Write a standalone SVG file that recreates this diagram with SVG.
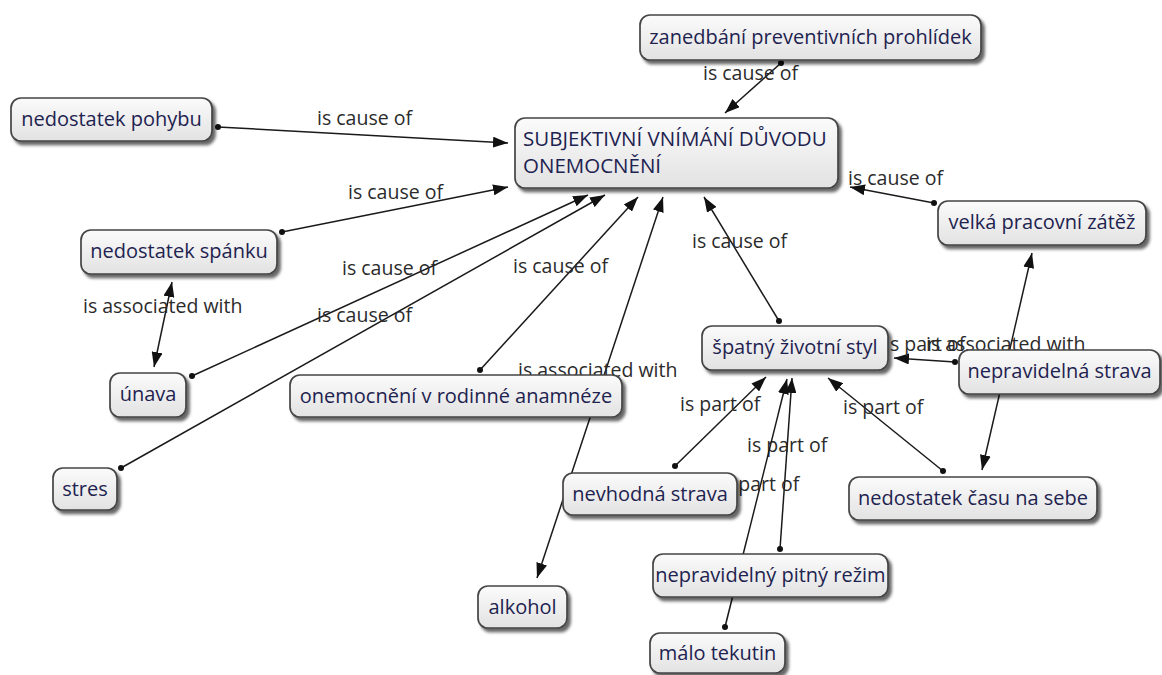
<svg xmlns="http://www.w3.org/2000/svg" width="1162" height="675" viewBox="0 0 1162 675">
  <defs>
    <linearGradient id="nodeFill" x1="0" y1="0" x2="0" y2="1">
      <stop offset="0" stop-color="#fbfbfb"/>
      <stop offset="1" stop-color="#e2e2e2"/>
    </linearGradient>
    <filter id="shadow" x="-10%" y="-20%" width="130%" height="160%">
      <feDropShadow dx="3" dy="3.5" stdDeviation="1.6" flood-color="#000" flood-opacity="0.6"/>
    </filter>
    <marker id="arrow" markerUnits="userSpaceOnUse" markerWidth="15" markerHeight="11" refX="15" refY="5.5" orient="auto-start-reverse">
      <path d="M0,0 L15,5.5 L0,11 z" fill="#111"/>
    </marker>
  </defs>
  <style>
    .node rect { fill: url(#nodeFill); stroke: #444; stroke-width: 1.7; filter: url(#shadow); }
    .node text { font-family: "Open Sans", "Noto Sans", sans-serif; font-size: 20px; fill: #1e2350; text-anchor: middle; }
    .node text.left { text-anchor: start; font-size: 20.5px; }
    .link { stroke: #1a1a1a; stroke-width: 1.5; fill: none; }
    .one { marker-end: url(#arrow); }
    .both { marker-start: url(#arrow); marker-end: url(#arrow); }
    .dot { fill: #111; }
    .lbl { font-family: "Open Sans", "Noto Sans", sans-serif; font-size: 19.5px; fill: #2b2b2b; }
  </style>

  <rect width="1162" height="675" fill="#ffffff"/>

  <!-- connectors and linking phrases, drawn beneath the concepts -->
  <g id="connectors">
    <line class="link one" x1="218" y1="127" x2="508" y2="143"/>
    <circle class="dot" cx="218" cy="127" r="3"/>
    <text class="lbl" x="317" y="125">is cause of</text>

    <line class="link one" x1="282" y1="232" x2="508" y2="187"/>
    <circle class="dot" cx="282" cy="232" r="3"/>
    <text class="lbl" x="348" y="199">is cause of</text>

    <line class="link one" x1="192" y1="376" x2="588" y2="195"/>
    <circle class="dot" cx="192" cy="376" r="3"/>
    <text class="lbl" x="342" y="275">is cause of</text>

    <line class="link one" x1="121" y1="468" x2="605" y2="195"/>
    <circle class="dot" cx="121" cy="468" r="3"/>
    <text class="lbl" x="317" y="322">is cause of</text>

    <line class="link one" x1="480" y1="370" x2="638" y2="197"/>
    <circle class="dot" cx="480" cy="370" r="3"/>
    <text class="lbl" x="513" y="273">is cause of</text>

    <line class="link both" x1="663" y1="197" x2="537" y2="578"/>
    <text class="lbl" x="518" y="377">is associated with</text>

    <line class="link one" x1="779" y1="321" x2="704" y2="197"/>
    <circle class="dot" cx="779" cy="321" r="3"/>
    <text class="lbl" x="692" y="248">is cause of</text>

    <line class="link one" x1="781" y1="63" x2="725" y2="113"/>
    <circle class="dot" cx="781" cy="63" r="3"/>
    <text class="lbl" x="703" y="80">is cause of</text>

    <line class="link one" x1="934" y1="203" x2="850" y2="187"/>
    <circle class="dot" cx="934" cy="203" r="3"/>
    <text class="lbl" x="848" y="185">is cause of</text>

    <line class="link both" x1="172" y1="282" x2="154" y2="367"/>
    <text class="lbl" x="83" y="313">is associated with</text>

    <line class="link one" x1="955" y1="362" x2="894" y2="358"/>
    <circle class="dot" cx="955" cy="362" r="3"/>
    <text class="lbl" x="885" y="351">is part of</text>

    <line class="link both" x1="1032" y1="253" x2="982" y2="470"/>
    <text class="lbl" x="926" y="351">is associated with</text>

    <line class="link one" x1="675" y1="466" x2="766" y2="377"/>
    <circle class="dot" cx="675" cy="466" r="3"/>
    <text class="lbl" x="680" y="411">is part of</text>

    <line class="link one" x1="943" y1="471" x2="828" y2="378"/>
    <circle class="dot" cx="943" cy="471" r="3"/>
    <text class="lbl" x="843" y="414">is part of</text>

    <line class="link one" x1="780" y1="549" x2="792" y2="378"/>
    <circle class="dot" cx="780" cy="549" r="3"/>
    <text class="lbl" x="747" y="452">is part of</text>

    <line class="link one" x1="725" y1="627" x2="787" y2="379"/>
    <circle class="dot" cx="725" cy="627" r="3"/>
    <text class="lbl" x="719" y="491">is part of</text>
  </g>

  <!-- concepts -->
  <g id="n-zanedbani" class="node">
    <rect x="640" y="15" width="341" height="45" rx="10"/>
    <text x="810.5" y="44">zanedbání preventivních prohlídek</text>
  </g>
  <g id="n-pohyb" class="node">
    <rect x="11" y="98" width="201" height="43" rx="10"/>
    <text x="111.5" y="126">nedostatek pohybu</text>
  </g>
  <g id="n-subjektivni" class="node">
    <rect x="515" y="118" width="323" height="70" rx="10"/>
    <text class="left" x="523" y="146">SUBJEKTIVNÍ VNÍMÁNÍ DŮVODU</text>
    <text class="left" x="523" y="173">ONEMOCNĚNÍ</text>
  </g>
  <g id="n-spanek" class="node">
    <rect x="81" y="230" width="196" height="44" rx="10"/>
    <text x="179" y="258">nedostatek spánku</text>
  </g>
  <g id="n-zatez" class="node">
    <rect x="938" y="201" width="208" height="44" rx="10"/>
    <text x="1042" y="229">velká pracovní zátěž</text>
  </g>
  <g id="n-unava" class="node">
    <rect x="110" y="373" width="76" height="44" rx="10"/>
    <text x="148" y="401">únava</text>
  </g>
  <g id="n-anamneza" class="node">
    <rect x="290" y="375" width="332" height="42" rx="10"/>
    <text x="456" y="403">onemocnění v rodinné anamnéze</text>
  </g>
  <g id="n-styl" class="node">
    <rect x="702" y="326" width="186" height="44" rx="10"/>
    <text x="795" y="354">špatný životní styl</text>
  </g>
  <g id="n-nepravidelna-strava" class="node">
    <rect x="959" y="350" width="201" height="44" rx="10"/>
    <text x="1059.5" y="378">nepravidelná strava</text>
  </g>
  <g id="n-stres" class="node">
    <rect x="53" y="468" width="64" height="42" rx="10"/>
    <text x="85" y="496">stres</text>
  </g>
  <g id="n-nevhodna-strava" class="node">
    <rect x="563" y="473" width="174" height="42" rx="10"/>
    <text x="650" y="501">nevhodná strava</text>
  </g>
  <g id="n-cas" class="node">
    <rect x="849" y="477" width="248" height="43" rx="10"/>
    <text x="973" y="505">nedostatek času na sebe</text>
  </g>
  <g id="n-pitny-rezim" class="node">
    <rect x="653" y="554" width="235" height="43" rx="10"/>
    <text x="770.5" y="582">nepravidelný pitný režim</text>
  </g>
  <g id="n-alkohol" class="node">
    <rect x="478" y="586" width="89" height="42" rx="10"/>
    <text x="522.5" y="614">alkohol</text>
  </g>
  <g id="n-tekutiny" class="node">
    <rect x="650" y="633" width="135" height="40" rx="10"/>
    <text x="717.5" y="660">málo tekutin</text>
  </g>
</svg>
